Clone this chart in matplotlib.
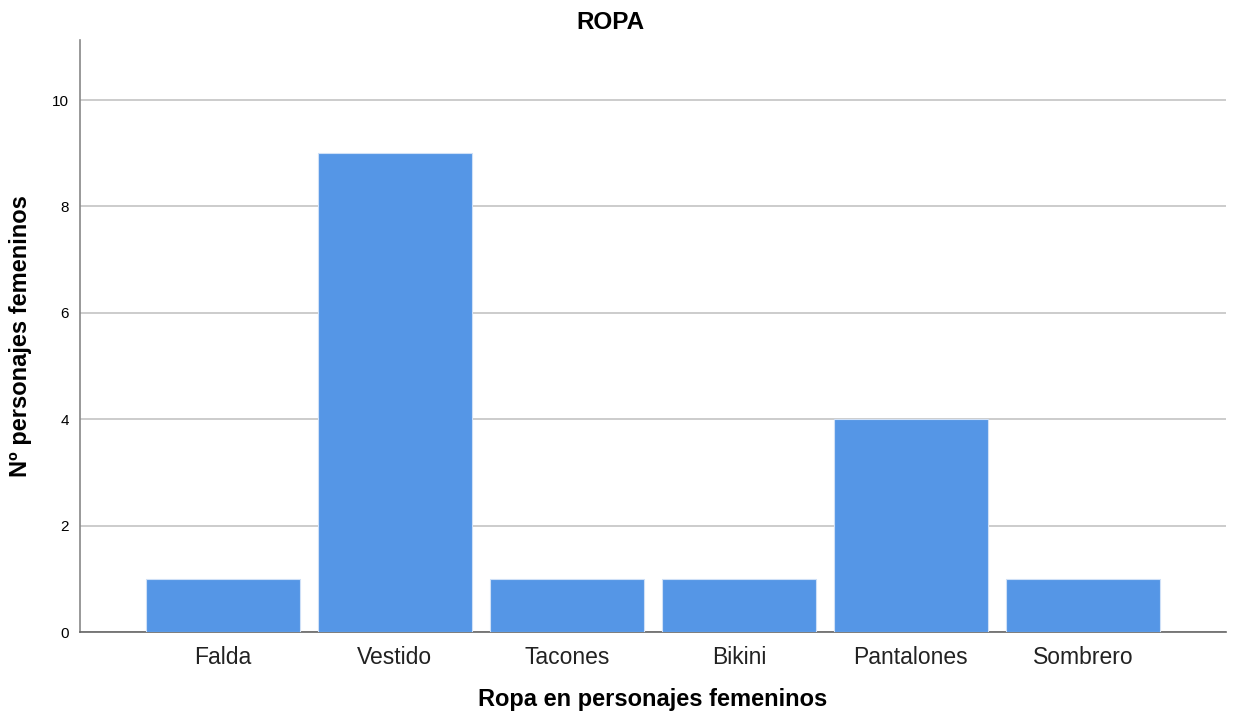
import matplotlib.pyplot as plt

categorias = ["Falda", "Vestido", "Tacones", "Bikini", "Pantalones", "Sombrero"]
valores = [1, 9, 1, 1, 4, 1]
yticks = [0, 2, 4, 6, 8, 10]

plt.rcParams['font.family'] = ['Liberation Sans', 'DejaVu Sans']

fig = plt.figure(figsize=(12.33, 7.15), dpi=100)
ax = fig.add_axes([80 / 1233, 1 - 632 / 715, 1146 / 1233, 592 / 715])

x = list(range(len(categorias)))
ax.bar(x, valores, width=0.895, color="#5596E6", edgecolor="#cfe0f7", linewidth=0.8, zorder=3)

ax.set_xlim(-0.831, 5.832)
ax.set_ylim(0, 11.13)
ax.set_yticks(yticks)
ax.set_xticks(x)
ax.set_xticklabels(categorias, fontsize=16.5, color="#222222")
ax.tick_params(axis="y", labelsize=11, length=0, pad=8)
ax.tick_params(axis="x", length=0, pad=10)
ax.yaxis.grid(True, color="#c8c8c8", linewidth=1.3, zorder=0)

for s in ["top", "right"]:
    ax.spines[s].set_visible(False)
ax.spines["left"].set_color("#888888")
ax.spines["bottom"].set_color("#666666")
ax.spines["left"].set_linewidth(1.2)
ax.spines["bottom"].set_linewidth(1.2)

ax.set_title("ROPA", fontsize=17.5, fontweight="bold", x=0.463, pad=8)
ax.set_xlabel("Ropa en personajes femeninos", fontsize=17, fontweight="bold", labelpad=14)
ax.set_ylabel("Nº personajes femeninos", fontsize=17, fontweight="bold", labelpad=14)

fig.savefig("out.png", dpi=100)
